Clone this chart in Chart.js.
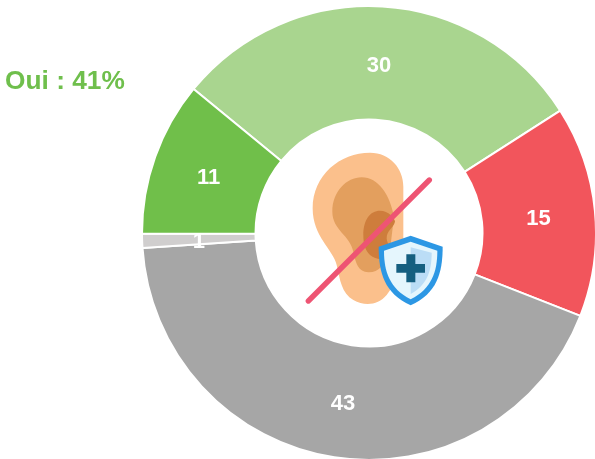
<!DOCTYPE html>
<html><head><meta charset="utf-8">
<style>
html,body{margin:0;padding:0;background:#fff;overflow:hidden}
#wrap{position:relative;width:595px;height:459px;overflow:hidden}
canvas{position:absolute;left:0;top:0}
#oui{position:absolute;left:5px;top:66px;font:bold 26.3px "Liberation Sans",Arial,sans-serif;color:#6FBF4C;line-height:28px;white-space:nowrap}
#icon{position:absolute;left:290px;top:140px;width:170px;height:175px;filter:blur(.4px)}
</style>
<script src="https://cdn.jsdelivr.net/npm/chart.js@4"></script>
</head><body>
<div id="wrap">
<canvas id="c" width="600" height="464"></canvas>
<div id="oui">Oui : 41%</div>
<svg id="icon" viewBox="0 0 510 525" xmlns="http://www.w3.org/2000/svg">
<path fill="#FBC08C" d="M68 205C68 105 150 38 240 38C300 38 340 85 340 140L340 300C340 360 325 420 290 465C265 495 225 500 190 480C155 460 150 420 140 375C130 330 68 290 68 205Z"/>
<path fill="#E39F5E" d="M127 215C127 155 170 112 215 112C265 112 300 165 312 230L300 330C285 375 265 398 235 397C205 395 197 370 190 335C180 285 127 270 127 215Z"/>
<path fill="#CE7D3C" d="M220 285C220 240 240 212 270 212C295 212 315 235 315 245C310 265 290 270 290 295C290 315 310 320 300 340C285 365 260 360 240 345C225 330 220 310 220 285Z"/>
<path fill="#2C97E4" d="M362 287L458 320C458 400 440 460 362 496C284 460 266 400 266 320Z"/>
<path fill="#E5F6FD" d="M362 305L442 332C442 395 425 445 362 478C299 445 282 395 282 332Z"/>
<path fill="#BBDDF6" d="M362 322L425 338C425 395 410 435 362 462Z"/>
<path fill="#155F80" d="M349 343H376V372H405V398H376V427H349V398H319V372H349Z"/>
<line x1="55" y1="483" x2="418" y2="120" stroke="#EE5473" stroke-width="16" stroke-linecap="round"/>
</svg>
</div>
<script>
const categories = ['Oui, plutôt', 'Non', 'Non, pas du tout', 'NSP', 'Oui, tout à fait'];
const values = [30, 15, 43, 1, 11];
const colors = ['#A9D58F', '#F2555C', '#A6A6A6', '#D0CECE', '#70BF4A'];

const sliceLabels = {
  id: 'sliceLabels',
  afterDatasetsDraw(chart) {
    const ctx = chart.ctx;
    const meta = chart.getDatasetMeta(0);
    ctx.save();
    ctx.fillStyle = '#fff';
    ctx.font = 'bold 22px "Liberation Sans", Arial, sans-serif';
    ctx.textAlign = 'center';
    ctx.textBaseline = 'middle';
    meta.data.forEach((arc, i) => {
      const p = arc.tooltipPosition();
      ctx.fillText(String(values[i]), p.x, p.y + 2.5);
    });
    ctx.restore();
  }
};

new Chart(document.getElementById('c'), {
  type: 'doughnut',
  data: {
    labels: categories,
    datasets: [{ data: values, backgroundColor: colors, borderColor: '#fff', borderWidth: 2 }]
  },
  options: {
    responsive: false,
    animation: false,
    rotation: -50.6,
    cutout: '50%',
    layout: { padding: { left: 141, top: 5, right: 3, bottom: 3 } },
    plugins: { legend: { display: false }, tooltip: { enabled: false }, title: { display: false } }
  },
  plugins: [sliceLabels]
});
</script>
</body></html>
